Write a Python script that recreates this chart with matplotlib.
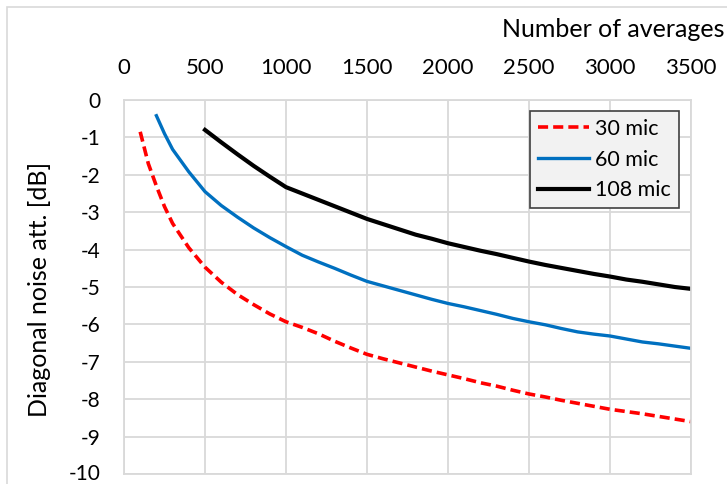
import matplotlib
matplotlib.use("Agg")
import matplotlib.pyplot as plt
from matplotlib.patches import Rectangle

plt.rcParams['font.family'] = ['Lato', 'DejaVu Sans']

x_30 = [100, 150, 200, 250, 300, 400, 500, 600, 700, 800, 900, 1000, 1100, 1200, 1300, 1400,
        1500, 1600, 1700, 1800, 1900, 2000, 2100, 2200, 2300, 2400, 2500, 2600, 2700, 2800,
        2900, 3000, 3100, 3200, 3300, 3400, 3500]
y_30 = [-0.85, -1.7, -2.3, -2.85, -3.3, -3.95, -4.47, -4.87, -5.2, -5.47, -5.72, -5.93, -6.08,
        -6.25, -6.45, -6.63, -6.8, -6.92, -7.03, -7.14, -7.25, -7.35, -7.45, -7.56, -7.65,
        -7.76, -7.86, -7.94, -8.03, -8.11, -8.19, -8.27, -8.33, -8.39, -8.46, -8.53, -8.6]

x_60 = [200, 250, 300, 400, 500, 600, 700, 800, 900, 1000, 1100, 1200, 1300, 1400, 1500, 1600,
        1700, 1800, 1900, 2000, 2100, 2200, 2300, 2400, 2500, 2600, 2700, 2800, 2900, 3000,
        3100, 3200, 3300, 3400, 3500]
y_60 = [-0.42, -0.9, -1.32, -1.92, -2.45, -2.82, -3.13, -3.42, -3.68, -3.92, -4.15, -4.33, -4.5,
        -4.68, -4.85, -4.97, -5.09, -5.21, -5.33, -5.44, -5.53, -5.63, -5.73, -5.84, -5.93,
        -6.01, -6.11, -6.2, -6.26, -6.31, -6.39, -6.47, -6.52, -6.58, -6.64]

x_108 = [500, 600, 700, 800, 900, 1000, 1100, 1200, 1300, 1400, 1500, 1600, 1700, 1800, 1900,
         2000, 2100, 2200, 2300, 2400, 2500, 2600, 2700, 2800, 2900, 3000, 3100, 3200, 3300,
         3400, 3500]
y_108 = [-0.8, -1.13, -1.45, -1.76, -2.05, -2.33, -2.5, -2.67, -2.84, -3.01, -3.18, -3.32, -3.46,
         -3.6, -3.71, -3.83, -3.93, -4.03, -4.12, -4.22, -4.32, -4.41, -4.49, -4.57, -4.65,
         -4.72, -4.8, -4.86, -4.93, -5.0, -5.05]

x_ticks = [0, 500, 1000, 1500, 2000, 2500, 3000, 3500]
y_ticks = [0, -1, -2, -3, -4, -5, -6, -7, -8, -9, -10]

W, H = 727, 484
fig = plt.figure(figsize=(W / 100, H / 100), dpi=100)
fig.patches.append(Rectangle((7 / W, -0.1), 1.2, 1 - 7 / H + 0.1, transform=fig.transFigure,
                             fill=False, edgecolor='#d9d9d9', linewidth=1.2))

ax = fig.add_axes([124 / W, 1 - 474 / H, (691 - 124) / W, (474 - 100) / H])
grid_c = '#d9d9d9'
ax.set_xlim(0, 3500)
ax.set_ylim(-10, 0)
ax.set_xticks(x_ticks)
ax.set_yticks(y_ticks)
ax.set_xticklabels([str(t) for t in x_ticks])
ax.set_yticklabels([str(t) for t in y_ticks])
ax.xaxis.tick_top()
ax.xaxis.set_label_position('top')
ax.tick_params(axis='both', length=0, colors='black')
ax.tick_params(axis='x', pad=16, labelsize=16)
ax.tick_params(axis='y', pad=17, labelsize=15)
ax.get_yticklabels()[-1].set_va('center')
ax.grid(True, color=grid_c, linewidth=1.3)
for s in ax.spines.values():
    s.set_color(grid_c)
    s.set_linewidth(1.3)

ax.plot(x_30, y_30, color='#ff0000', linewidth=2.6, linestyle=(0, (2.8, 1.4)), label='30 mic')
ax.plot(x_60, y_60, color='#0070c0', linewidth=2.4, label='60 mic')
ax.plot(x_108, y_108, color='#000000', linewidth=3.0, label='108 mic')

leg = ax.legend(loc='upper right', bbox_to_anchor=((679 - 124) / 567, (474 - 111) / 374),
                borderaxespad=0, fontsize=15.5, frameon=True, fancybox=False,
                handlelength=2.4, handletextpad=0.28, borderpad=0.37, labelspacing=0.5)
leg.get_frame().set_facecolor('#f2f2f2')
leg.get_frame().set_edgecolor('#404040')
leg.get_frame().set_linewidth(1.2)
leg.get_frame().set_alpha(1)

fig.text(724 / W, 1 - 37 / H, 'Number of averages', ha='right', va='baseline', fontsize=18)
fig.text(40 / W, 1 - 289 / H, 'Diagonal noise att. [dB]', rotation=90, ha='center',
         va='center', fontsize=18)

fig.savefig('out.png', dpi=100)
